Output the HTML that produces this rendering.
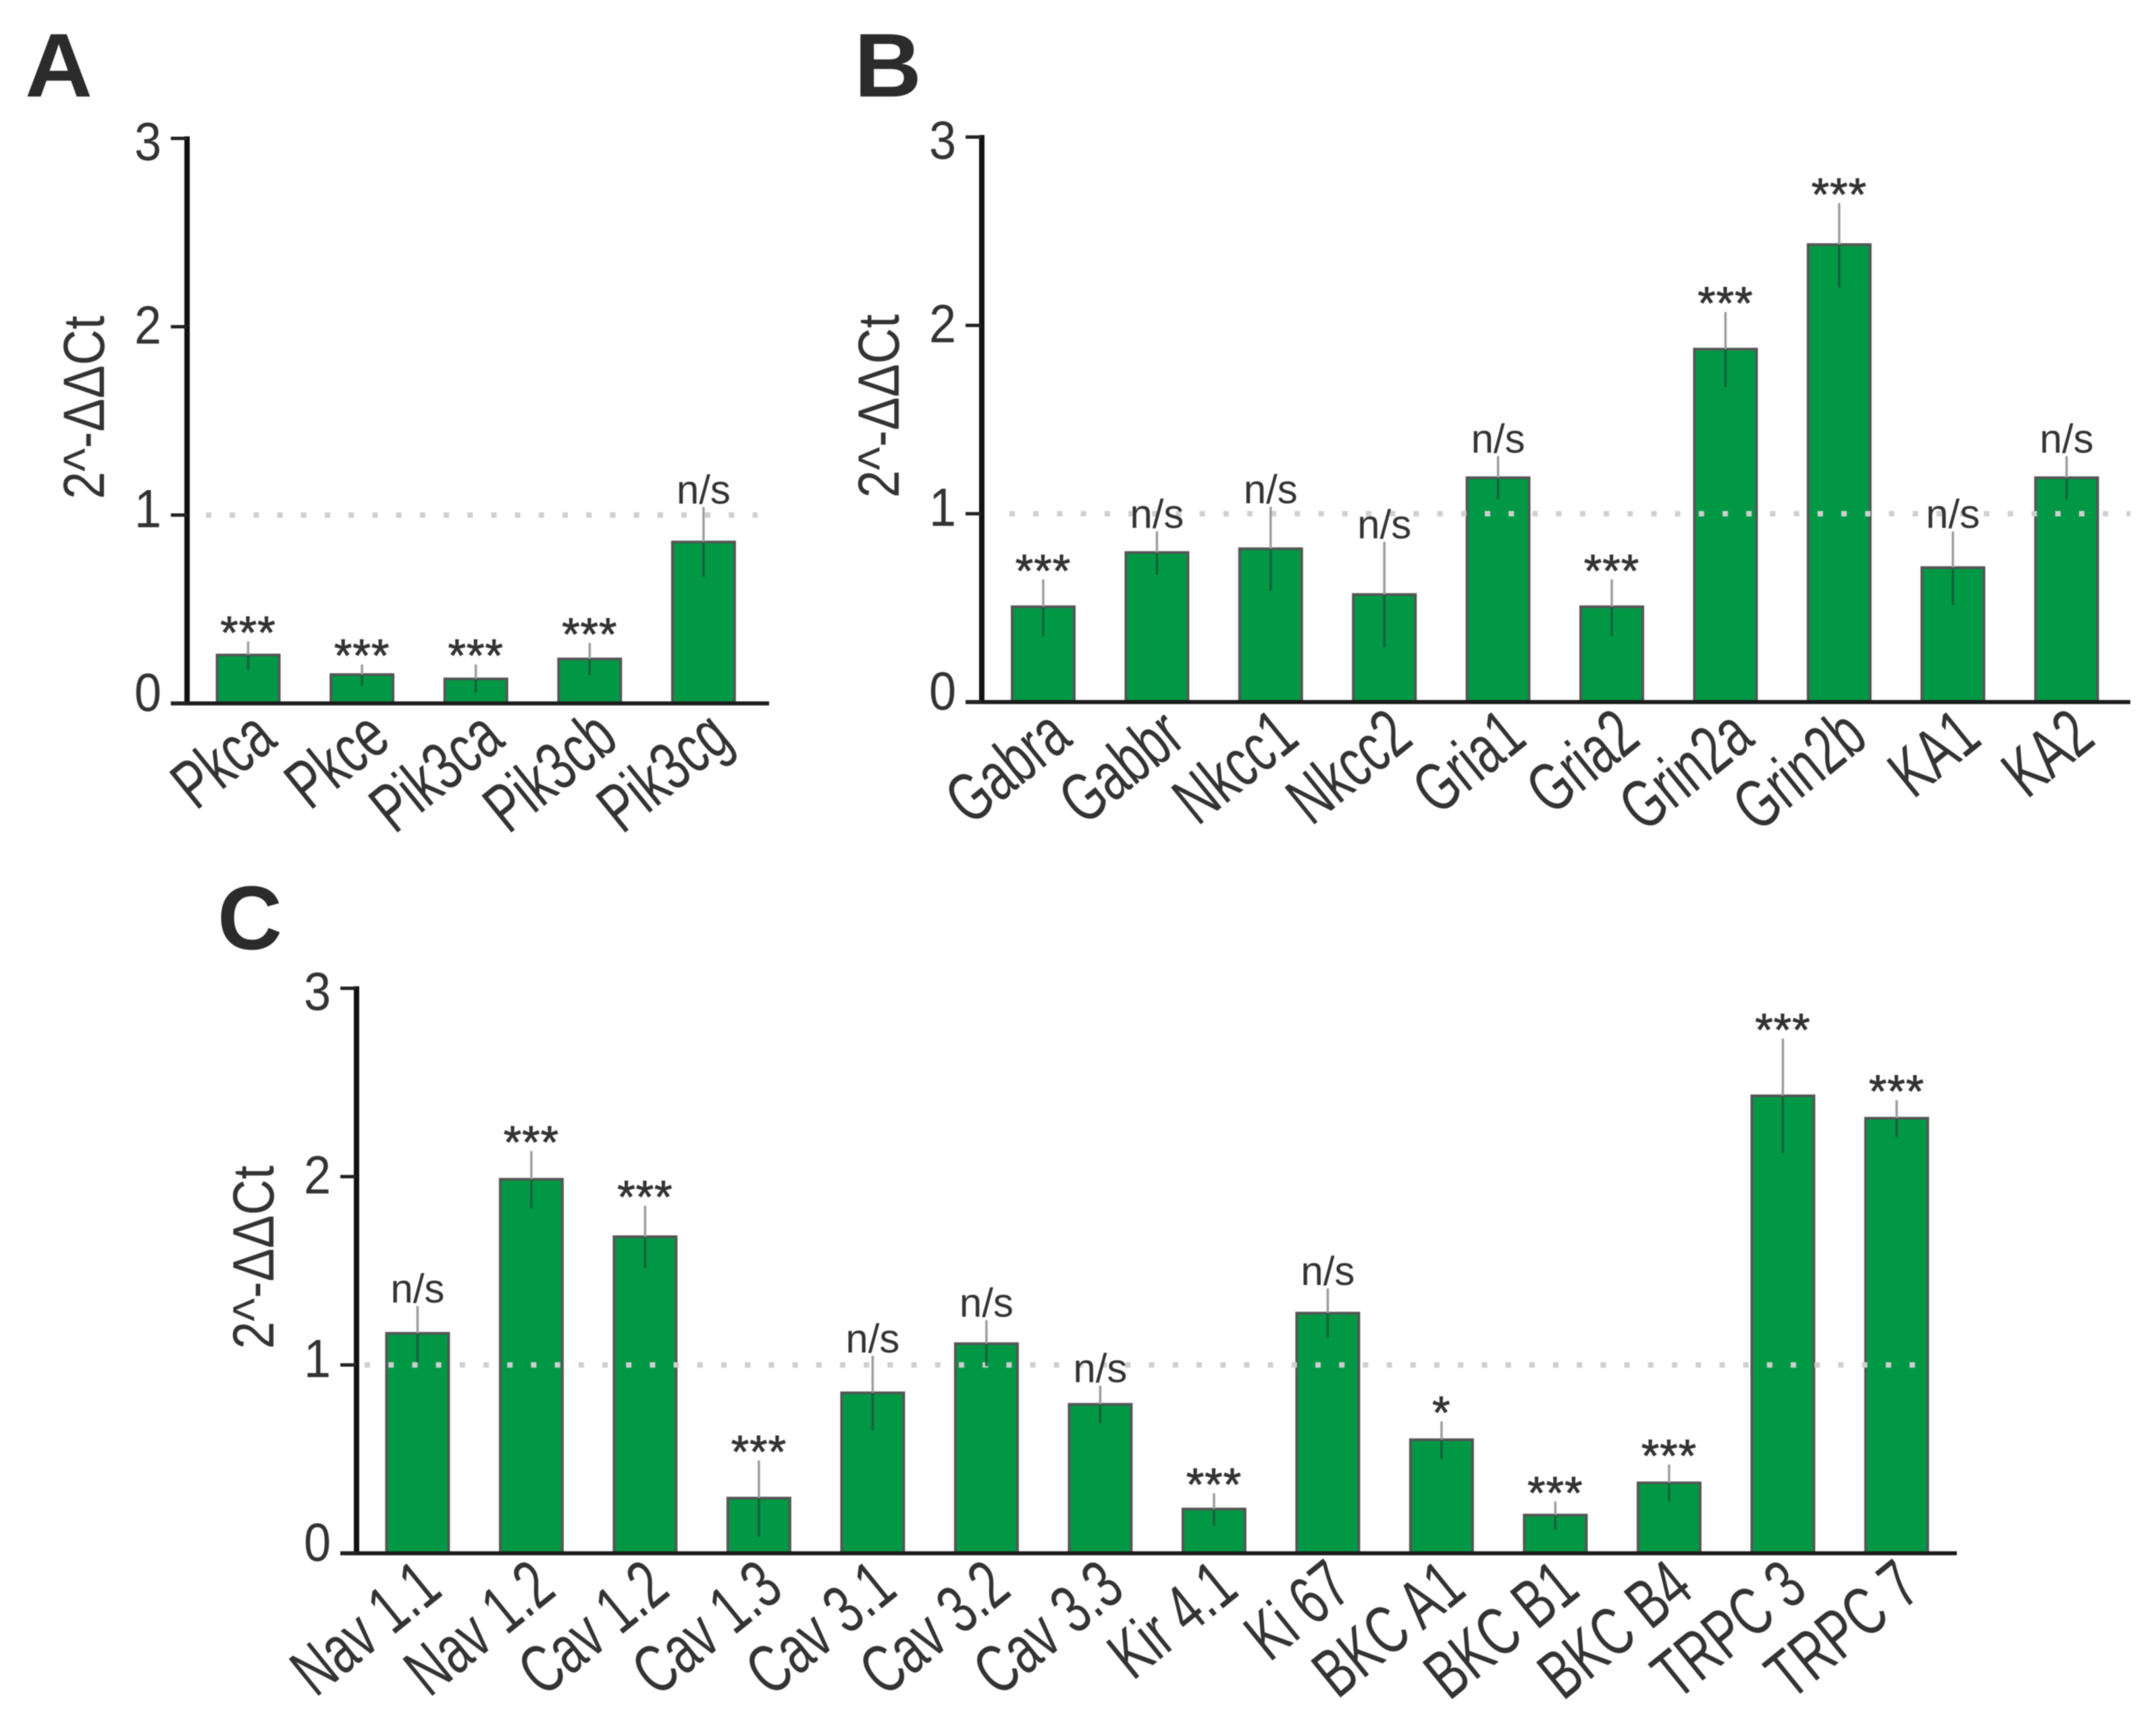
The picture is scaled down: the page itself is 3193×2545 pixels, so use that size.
<!DOCTYPE html>
<html lang="en">
<head>
<meta charset="utf-8">
<title>Relative gene expression bar charts</title>
<style>
html,body{margin:0;padding:0;background:#fff;}
svg{display:block;filter:blur(0.9px);}
text{font-family:"Liberation Sans",Arial,sans-serif;fill:#333;}
</style>
</head>
<body>
<svg id="figure" xmlns="http://www.w3.org/2000/svg" width="3193" height="2545" viewBox="0 0 3193 2545">
  <rect x="0" y="0" width="3193" height="2545" fill="#fff"/>
  <text x="37" y="143" font-size="134" font-weight="700" style="fill:#2b2b2b" textLength="100" lengthAdjust="spacingAndGlyphs">A</text>
  <text x="1265" y="143" font-size="134" font-weight="700" style="fill:#2b2b2b" textLength="100" lengthAdjust="spacingAndGlyphs">B</text>
  <text x="322" y="1406" font-size="134" font-weight="700" style="fill:#2b2b2b" textLength="96" lengthAdjust="spacingAndGlyphs">C</text>
</svg>
<script>
var yTickLabels = [0, 1, 2, 3];
var referenceLevel = [1];

var panelACategories = ["Pkca", "Pkce", "Pik3ca", "Pik3cb", "Pik3cg"];
var panelAValues = [0.257, 0.153, 0.13, 0.236, 0.857];
var panelAErrHigh = [0.329, 0.207, 0.207, 0.321, 1.043];
var panelAErrLow = [0.179, 0.093, 0.057, 0.15, 0.671];
var panelAMarks = ["***", "***", "***", "***", "n/s"];

var panelBCategories = ["Gabra", "Gabbr", "Nkcc1", "Nkcc2", "Gria1", "Gria2", "Grin2a", "Grin2b", "KA1", "KA2"];
var panelBValues = [0.506, 0.794, 0.814, 0.571, 1.191, 0.506, 1.874, 2.429, 0.714, 1.191];
var panelBErrHigh = [0.651, 0.906, 1.037, 0.851, 1.306, 0.651, 2.071, 2.649, 0.906, 1.306];
var panelBErrLow = [0.349, 0.677, 0.591, 0.291, 1.077, 0.349, 1.671, 2.2, 0.514, 1.077];
var panelBMarks = ["***", "n/s", "n/s", "n/s", "n/s", "***", "***", "***", "n/s", "n/s"];

var panelCCategories = ["Nav 1.1", "Nav 1.2", "Cav 1.2", "Cav 1.3", "Cav 3.1", "Cav 3.2", "Cav 3.3", "Kir 4.1", "Ki 67", "BKC A1", "BKC B1", "BKC B4", "TRPC 3", "TRPC 7"];
var panelCValues = [1.168, 1.986, 1.681, 0.293, 0.852, 1.113, 0.791, 0.235, 1.275, 0.603, 0.203, 0.374, 2.429, 2.31];
var panelCErrHigh = [1.313, 2.136, 1.846, 0.493, 1.049, 1.238, 0.89, 0.319, 1.406, 0.701, 0.275, 0.472, 2.733, 2.406];
var panelCErrLow = [1.014, 1.832, 1.513, 0.087, 0.652, 0.994, 0.69, 0.145, 1.145, 0.501, 0.125, 0.275, 2.125, 2.209];
var panelCMarks = ["n/s", "***", "***", "***", "n/s", "n/s", "n/s", "***", "n/s", "*", "***", "***", "***", "***"];

var SVG_NS = "http://www.w3.org/2000/svg";
var figure = document.getElementById("figure");

function mk(tag, attrs, parent, content) {
  var el = document.createElementNS(SVG_NS, tag);
  for (var k in attrs) { el.setAttribute(k, attrs[k]); }
  if (content !== undefined) { el.textContent = content; }
  parent.appendChild(el);
  return el;
}

function slug(s) {
  return String(s).toLowerCase().replace(/[^a-z0-9]+/g, "-");
}

function drawPanel(p) {
  var unit = 279;
  function yScale(v) { return p.y0 - v * unit; }
  function xScale(i) { return p.firstCenter + p.step * i; }
  function tickLabelY(v) { return yScale(v) + 11 + 7 * v; }

  var g = mk("g", {}, figure);
  
  

  // bars
  p.values.forEach(function (v, i) {
    var bar = mk("rect", {
      x: xScale(i) - 46, y: yScale(v), width: 92, height: yScale(0) - yScale(v),
      fill: "#009845", stroke: "#555", "stroke-width": 4
    }, g);
    
    
  });

  // reference dotted line
  referenceLevel.forEach(function (r) {
    var ref = mk("line", {
      x1: p.refStart, x2: p.refEnd, y1: yScale(r), y2: yScale(r),
      stroke: "#cfcfcf", "stroke-width": 8, "stroke-dasharray": "8 27.2"
    }, g);
    
    
  });

  // error bars
  p.values.forEach(function (v, i) {
    var upper = mk("line", {
      x1: xScale(i), x2: xScale(i), y1: yScale(p.errHigh[i]), y2: yScale(v),
      stroke: "#9c9c9c", "stroke-width": 3.5
    }, g);
    
    
    var lower = mk("line", {
      x1: xScale(i), x2: xScale(i), y1: yScale(v), y2: yScale(p.errLow[i]),
      stroke: "#14603a", "stroke-width": 3.5
    }, g);
    
    
  });

  // axes
  var yAxis = mk("line", {
    x1: p.axisX, x2: p.axisX, y1: yScale(3) - 3, y2: yScale(0) + 3,
    stroke: "#111", "stroke-width": 8
  }, g);
  
  

  var xAxis = mk("line", {
    x1: p.axisX - 24, x2: p.axisEnd, y1: yScale(0), y2: yScale(0),
    stroke: "#1c1c1c", "stroke-width": 6
  }, g);
  
  

  yTickLabels.forEach(function (t) {
    var tick = mk("line", {
      x1: p.axisX - 24, x2: p.axisX, y1: yScale(t), y2: yScale(t),
      stroke: "#222", "stroke-width": 5
    }, g);
    
    
    var tx = p.axisX - 38;
    var lab = mk("text", {
      transform: "translate(" + tx + "," + tickLabelY(t) + ") scale(0.9,1)",
      "text-anchor": "end", "font-size": 80
    }, g, String(t));
    
    
  });

  // y axis title
  var titleX = p.axisX - 123;
  var titleY = yScale(1.5) - 20;
  var title = mk("text", {
    transform: "translate(" + titleX + "," + titleY + ") rotate(-90)",
    "text-anchor": "middle", "font-size": 86,
    textLength: 272, lengthAdjust: "spacingAndGlyphs"
  }, g, "2^-\u0394\u0394Ct");
  
  

  // significance marks
  p.marks.forEach(function (m, i) {
    var isStar = m.charAt(0) === "*";
    var baseY = yScale(p.errHigh[i]) + (isStar ? 10 : -5);
    var mark = mk("text", {
      x: xScale(i), y: baseY, "text-anchor": "middle", "font-size": isStar ? 68 : 60
    }, g, m);
    if (isStar) {
      mark.setAttribute("stroke", "#333");
      mark.setAttribute("stroke-width", "1");
      mark.setAttribute("letter-spacing", "1");
    }
    
    
  });

  // category labels
  p.categories.forEach(function (c, i) {
    var lx = xScale(i) + 38 + p.labelDx;
    var ly = yScale(0) + 60;
    var label = mk("text", {
      transform: "translate(" + lx + "," + ly + ") rotate(-39) scale(0.7,1)",
      "text-anchor": "end", "font-size": 102
    }, g, c);
    
    
  });
}

drawPanel({
  id: "a", axisX: 277, axisEnd: 1139, y0: 1042, firstCenter: 367.5, step: 168.6, labelDx: 8,
  refStart: 305, refEnd: 1122,
  categories: panelACategories, values: panelAValues, errHigh: panelAErrHigh,
  errLow: panelAErrLow, marks: panelAMarks
});
drawPanel({
  id: "b", axisX: 1454, axisEnd: 3155, y0: 1040, firstCenter: 1545, step: 168.4, labelDx: 8,
  refStart: 1495, refEnd: 3155,
  categories: panelBCategories, values: panelBValues, errHigh: panelBErrHigh,
  errLow: panelBErrLow, marks: panelBMarks
});
drawPanel({
  id: "c", axisX: 528, axisEnd: 2898, y0: 2301, firstCenter: 618.4, step: 168.5, labelDx: 2,
  refStart: 540, refEnd: 2862,
  categories: panelCCategories, values: panelCValues, errHigh: panelCErrHigh,
  errLow: panelCErrLow, marks: panelCMarks
});
</script>
</body>
</html>
